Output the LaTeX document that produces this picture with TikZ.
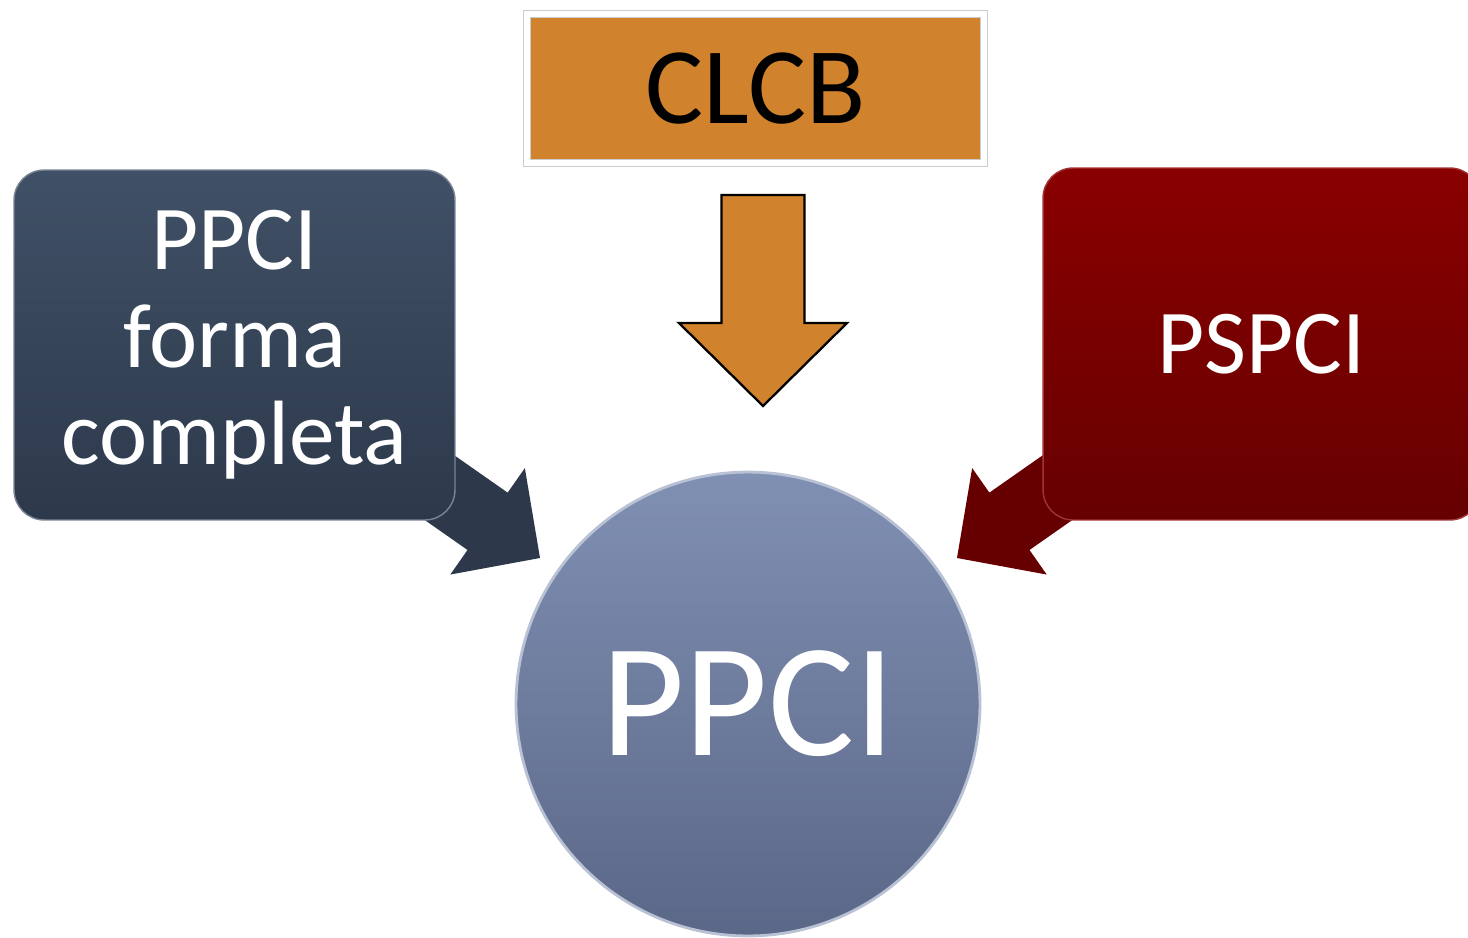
\documentclass[tikz,border=0pt]{standalone}
\usepackage{fontspec}
\setmainfont{Carlito}
\usepackage{tikz}
\usetikzlibrary{calc,shadows}
\definecolor{slatetop}{HTML}{405066}
\definecolor{slatebot}{HTML}{2D394B}
\definecolor{winetop}{HTML}{8A0000}
\definecolor{winebot}{HTML}{660000}
\definecolor{hubtop}{HTML}{8090B3}
\definecolor{hubbot}{HTML}{5B6787}
\definecolor{clcbfill}{HTML}{D0822C}
\tikzset{
  sidebox/.style={rectangle, rounded corners=0.6cm, align=center, text=white, font=\fontsize{52}{55.6}\selectfont},
  hubnode/.style={circle, minimum size=9.28cm, top color=hubtop, bottom color=hubbot, draw=hubtop!55!white, line width=1.6pt, text=white, font=\fontsize{92}{96}\selectfont},
  topbox/.style={rectangle, fill=clcbfill, draw=black!20, double=white, double distance=0.13cm, line width=0.6pt, minimum width=9.14cm, minimum height=2.98cm, font=\fontsize{62}{66}\selectfont, general shadow={fill=black!35, shadow scale=1.012, shadow yshift=-2pt, opacity=0.4}},
  blockarrow/.style n args={3}{to path={
    ($(\tikztostart)!#1!90:(\tikztotarget)$)
    -- ($(\tikztotarget)!#3!(\tikztostart)!#1!90:(\tikztotarget)$)
    -- ($(\tikztotarget)!#3!(\tikztostart)!#2!90:(\tikztotarget)$)
    -- (\tikztotarget)
    -- ($(\tikztotarget)!#3!(\tikztostart)!#2!-90:(\tikztotarget)$)
    -- ($(\tikztotarget)!#3!(\tikztostart)!#1!-90:(\tikztotarget)$)
    -- ($(\tikztostart)!#1!-90:(\tikztotarget)$) -- cycle}}
}

\begin{document}
\begin{tikzpicture}[x=0.02cm, y=-0.02cm]
\clip (0,0) rectangle (1468,937);
% arrow ends
\coordinate (lsrc) at (380,446);
\coordinate (ltip) at (540,558);
\coordinate (rsrc) at (1117,446);
\coordinate (rtip) at (957,558);
\coordinate (ctop) at (763,195);
\coordinate (ctip) at (763,406);
\path[blockarrow={0.70cm}{1.30cm}{1.28cm}, fill=slatebot] (lsrc) to (ltip);
\path[blockarrow={0.70cm}{1.30cm}{1.28cm}, fill=winebot] (rsrc) to (rtip);
% boxes
\node[sidebox, minimum width=8.82cm, minimum height=7.0cm, top color=slatetop, bottom color=slatebot, draw=slatetop!70!white, line width=0.8pt] (full) at (234.5,345) {PPCI\\forma\\completa};
\node[sidebox, minimum width=8.74cm, minimum height=7.04cm, top color=winetop, bottom color=winebot, draw=winetop!80!white, line width=0.8pt] (pspci) at (1261.5,344) {PSPCI};
\node[topbox] (clcb) at (755.5,88.5) {CLCB};
\draw[blockarrow={0.83cm}{1.68cm}{1.66cm}, fill=clcbfill, draw=black, line width=1.3pt] (ctop) to (ctip);
\node[hubnode] (ppci) at (748,704) {PPCI};
\end{tikzpicture}
\end{document}
